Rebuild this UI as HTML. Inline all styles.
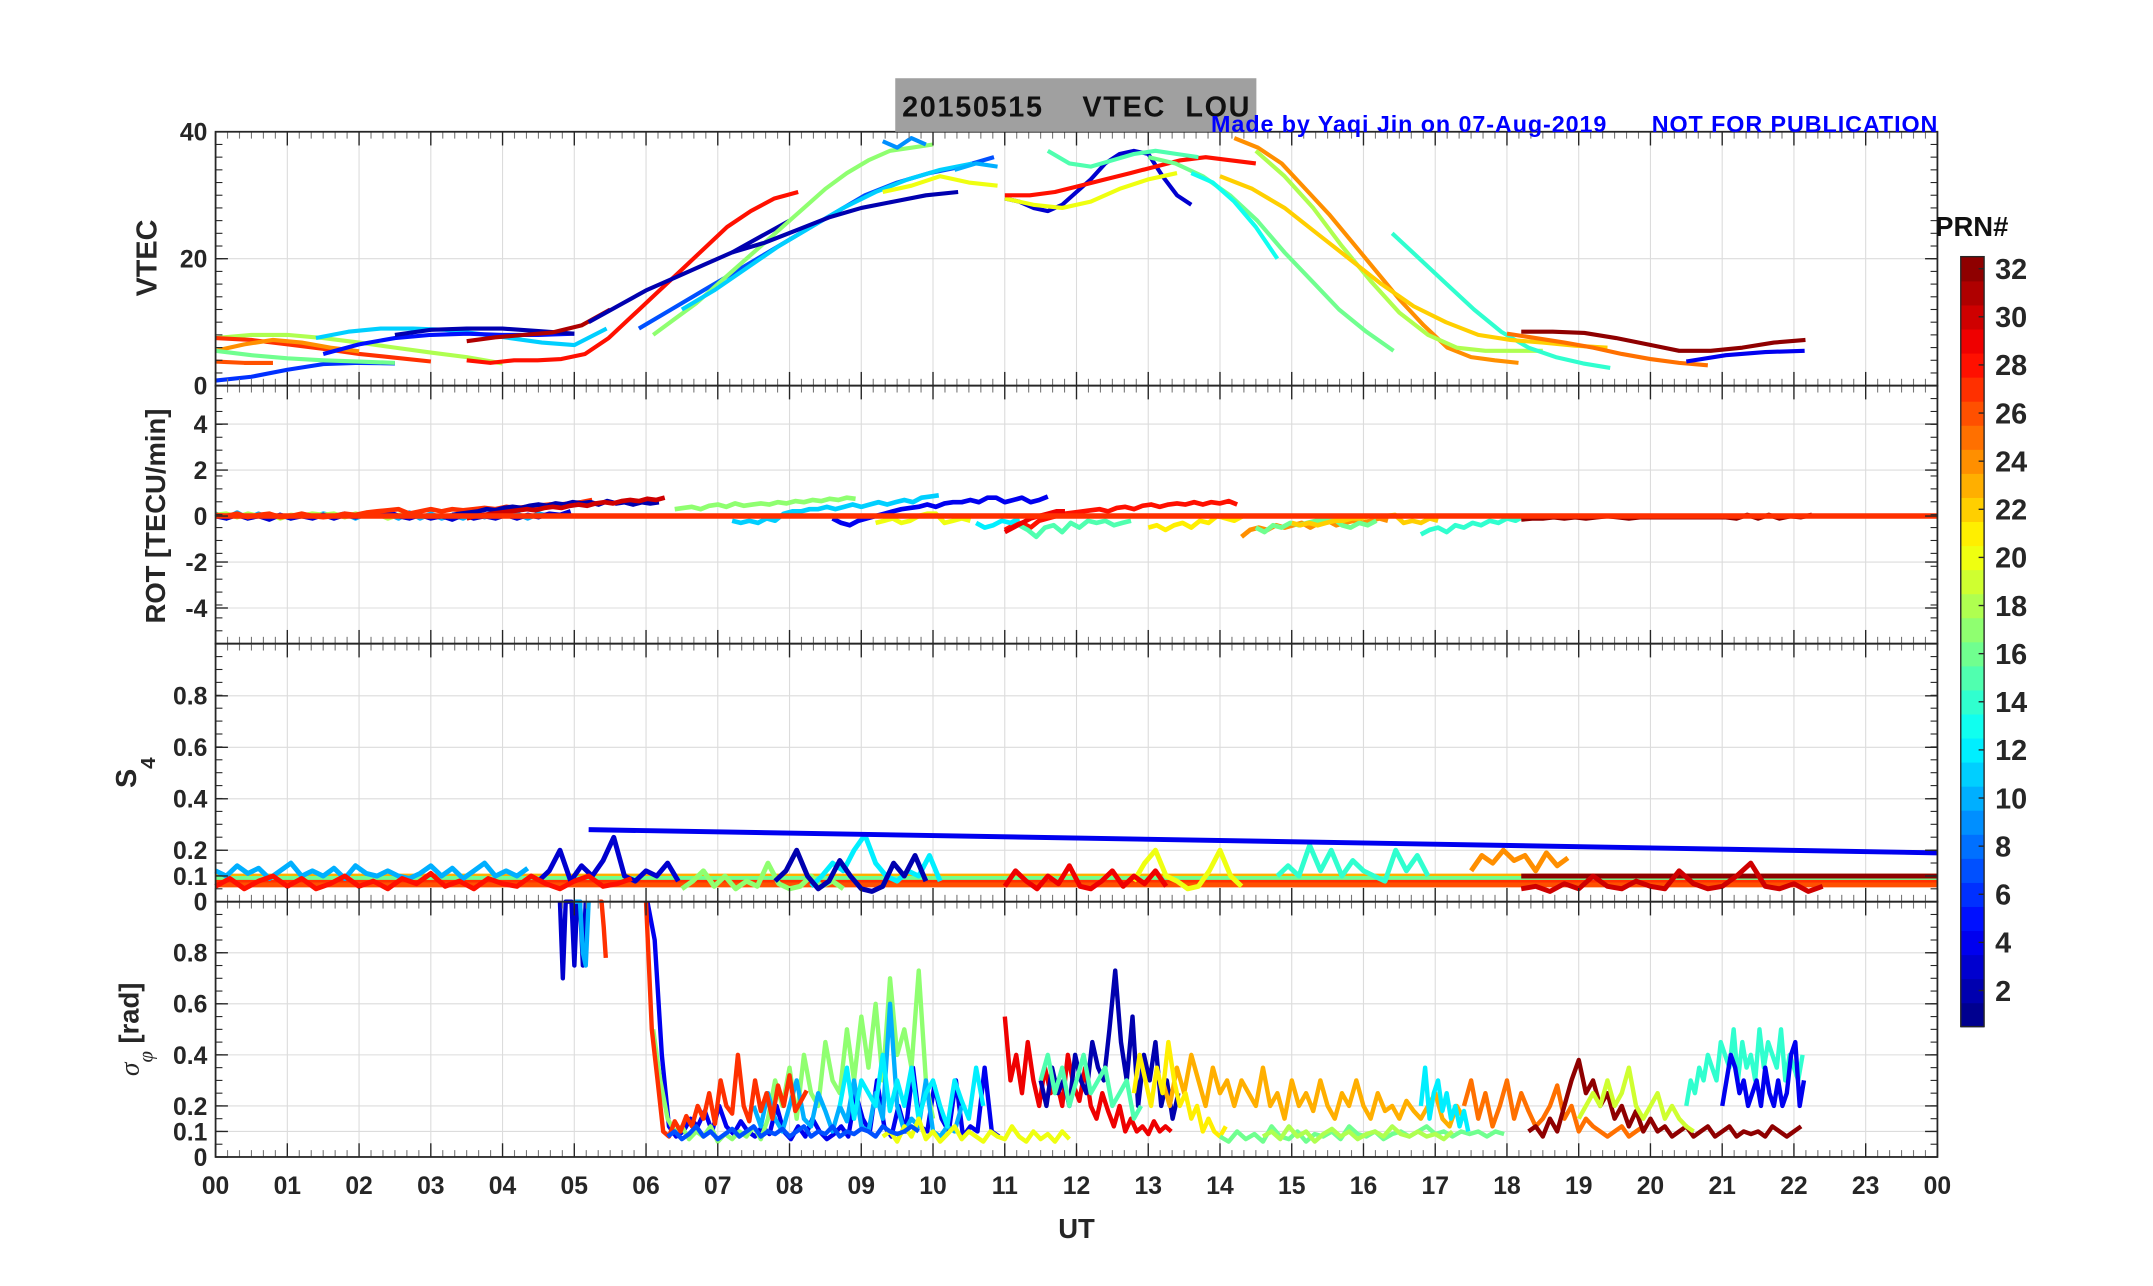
<!DOCTYPE html>
<html><head><meta charset="utf-8"><style>
html,body{margin:0;padding:0;background:#fff;}
svg{display:block;}
text{font-family:"Liberation Sans",Arial,sans-serif;font-weight:bold;fill:#262626;}
</style></head><body>
<svg id="chart" width="2153" height="1286" viewBox="0 0 1568 937" preserveAspectRatio="none" xmlns="http://www.w3.org/2000/svg">
<g id="grid"></g>
<g id="series"></g>
<g id="axes"></g>
<rect x="652" y="57" width="263" height="39" fill="#a0a0a0"/>
<text x="657" y="85" font-size="21" textLength="253" style="fill:#111" xml:space="preserve">20150515    VTEC  LOU</text>
<text x="1411" y="96" font-size="17" text-anchor="end" textLength="529" style="fill:#0000ff" xml:space="preserve">Made by Yaqi Jin on 07-Aug-2019      NOT FOR PUBLICATION</text>
<text transform="translate(114,188) rotate(-90)" font-size="21" text-anchor="middle">VTEC</text>
<text transform="translate(120,376) rotate(-90)" font-size="20" text-anchor="middle">ROT [TECU/min]</text>
<text transform="translate(99,563) rotate(-90)" font-size="21" text-anchor="middle">S<tspan font-size="15" dy="14">4</tspan></text>
<text transform="translate(101,750) rotate(-90)" font-size="20" text-anchor="middle"><tspan font-family="Liberation Serif" font-style="italic" font-weight="normal">σ</tspan><tspan font-size="15" dy="10" font-family="Liberation Serif" font-style="italic" font-weight="normal">φ</tspan><tspan dy="-10"> [rad]</tspan></text>
<text x="784" y="902" font-size="20" text-anchor="middle">UT</text>
<g id="cbar"></g>
<text x="1436" y="172" font-size="20" text-anchor="middle" style="fill:#111">PRN#</text>
</svg>
<script>
// ---------- data ----------
const xTickLabels = ["00","01","02","03","04","05","06","07","08","09","10","11","12","13","14","15","16","17","18","19","20","21","22","23","00"];
const vtecTicks = [0,20,40];
const rotTicks = [-4,-2,0,2,4];
const s4Ticks = [0,0.1,0.2,0.4,0.6,0.8];
const sigTicks = [0,0.1,0.2,0.4,0.6,0.8];
const cbarTicks = [2,4,6,8,10,12,14,16,18,20,22,24,26,28,30,32];

// VTEC series: prn, start hour, step (h), values (TECU)
const vtecPrn   = [6,18,27,24,16,26,11,5,2,31,28,2,7,17,11,2,20,9,10,3,20,28,15,24,18,16,14,13,22,32,25,4];
const vtecStart = [0,0,0,0,0,0,1.4,1.5,2.5,3.5,3.5,5.2,5.9,6.1,6.5,7.2,9.3,9.3,10.3,11,11,11,11.6,14.2,14.5,13.0,16.4,13.6,14.0,18.2,18.0,20.5];
const vtecStep  = [0.5,0.5,0.5,0.4,0.5,0.4,0.45,0.5,0.5,0.4,0.33,0.4,0.45,0.3,0.45,0.45,0.4,0.2,0.3,0.2,0.4,0.35,0.3,0.33,0.4,0.38,0.38,0.3,0.45,0.44,0.4,0.55];
const vtecVals  = [
 [0.8,1.4,2.5,3.4,3.6,3.5],
 [7.5,8,8,7.5,6.8,6,5.2,4.5,3.5],
 [7.5,7.2,6.5,5.8,5,4.4,3.8],
 [5.5,6.5,7.2,6.8,6,5.4],
 [5.5,4.8,4.3,4,3.8,3.6],
 [3.8,3.6,3.6],
 [7.5,8.5,9,9,8.8,8.2,7.5,6.8,6.4,9],
 [5,6.5,7.5,8,8.2,8,8,8.2],
 [8,8.8,9,9,8.6,8.2],
 [7,7.6,8,8.4,9.5,12],
 [4,3.6,4,4,4.2,5,7.5,11,14.5,18,21.5,25,27.5,29.5,30.5],
 [10,12.5,15,17,19,21,23.5,26],
 [9,12,15,18,21,24,27,30,32,33.5,34.5,36],
 [8,10.5,13,16,19,22,25,28,31,33.5,35.5,37,37.5,38],
 [12,15,18.5,22,25,28,30.5,32.5,34,35],
 [21,22.5,24.5,26.5,28,29,30,30.5],
 [30.5,31.5,33,32,31.5],
 [38.5,37.5,39,38],
 [34,35,34.5],
 [29.5,29,28,27.5,28.5,30.5,32.5,35,36.5,37,36.5,33,30,28.5],
 [29.5,28.5,28,29,31,32.5,33.5],
 [30,30,30.5,31.5,32.5,33.5,34.5,35.5,36,35.5,35],
 [37,35,34.5,35.5,36.5,37,36.5,36],
 [39,37.5,35,31,27,22.5,18,13.5,9.5,6,4.5,4,3.6],
 [37,33,28,22,16.5,11.5,8,6,5.5,5.5,5.5],
 [36,35,33,30,26,21,16.5,12,8.5,5.5],
 [24,20,16,12,8.5,6,4.5,3.5,2.8],
 [33.5,32,29,25,20],
 [33,31,28,24,20,16,12.5,10,8,7.2,6.8,6.3,6],
 [8.5,8.5,8.3,7.5,6.5,5.5,5.5,6,6.8,7.2],
 [8.2,7.5,6.8,6,5,4.2,3.6,3.2],
 [3.8,4.8,5.3,5.5]
];

// ROT series (TECU/min)
const rotPrn   = [10,18,3,27,2,30,17,11,20,4,28,12,15,29,21,24,16,14,22,32];
const rotStart = [0,0,0,0,3.3,3.5,6.4,7.2,9.2,8.6,11,10.6,11.2,11.0,13.0,14.3,14.5,16.8,15.0,18.2];
const rotStep  = [0.15,0.15,0.15,0.15,0.12,0.12,0.12,0.12,0.12,0.12,0.12,0.12,0.12,0.12,0.12,0.12,0.12,0.12,0.12,0.15];
const rotVals  = [
 [0.1,-0.1,0.15,-0.1,0.1,-0.1,0.05,-0.1,0.1,-0.05,0.1,0.0,0.1,-0.1,0.1,0.0,0.1,-0.1,0.15,-0.1,0.1,-0.1,0.05,-0.1,0.1,-0.05,0.1,0.0,0.1,-0.1,0.1,0.0],
 [0.05,0.1,-0.05,0.1,0.0,0.1,-0.1,0.05,0.0,0.1,0.05,0.1,-0.05,0.1,0.0,0.1,-0.1,0.05,0.0,0.1],
 [0.0,-0.1,0.05,-0.1,0.0,-0.15,0.05,-0.1,0.0,-0.1,0.05,-0.1,0.05,-0.05,0.1,0.05,0.2,0.0,-0.1,0.05,-0.1,0.0,-0.15,0.05,-0.1,0.0,-0.1,0.05,-0.1,0.05,-0.05,0.1,0.05,0.2],
 [0.05,0.0,0.1,-0.05,0.05,0.1,-0.05,0.0,0.1,0.0,-0.05,0.0,0.1,0.05,0.15,0.2,0.25,0.3,0.1,0.2,0.3,0.2,0.3,0.25,0.3,0.35,0.3,0.4,0.35,0.4,0.45,0.5,0.5,0.55,0.6,0.7],
 [0.05,0.1,0.15,0.2,0.3,0.25,0.35,0.4,0.35,0.45,0.5,0.45,0.55,0.5,0.6,0.55,0.6,0.5,0.65,0.55,0.6,0.5,0.6,0.55,0.6],
 [-0.1,0.0,0.05,0.1,0.15,0.2,0.25,0.3,0.25,0.35,0.4,0.35,0.45,0.5,0.45,0.55,0.6,0.55,0.65,0.7,0.65,0.75,0.7,0.8],
 [0.3,0.35,0.4,0.3,0.45,0.5,0.4,0.55,0.45,0.5,0.55,0.5,0.6,0.55,0.65,0.6,0.7,0.65,0.75,0.7,0.8,0.75],
 [-0.2,-0.3,-0.2,-0.3,-0.1,-0.2,0.1,0.2,0.2,0.3,0.3,0.4,0.3,0.4,0.5,0.4,0.5,0.6,0.5,0.6,0.7,0.6,0.8,0.85,0.9],
 [-0.3,-0.2,-0.1,-0.3,-0.2,0.0,0.1,0.1,-0.3,-0.2,-0.1,-0.2],
 [-0.1,-0.3,-0.4,-0.2,-0.1,0.0,0.1,0.2,0.3,0.35,0.4,0.5,0.4,0.55,0.6,0.6,0.7,0.6,0.8,0.8,0.6,0.7,0.8,0.6,0.7,0.85],
 [-0.6,-0.4,-0.3,-0.5,-0.2,-0.1,0.0,0.1,0.15,0.2,0.25,0.3,0.2,0.35,0.4,0.3,0.45,0.5,0.4,0.5,0.55,0.5,0.6,0.5,0.6,0.55,0.65,0.5],
 [-0.3,-0.5,-0.4,-0.2,-0.3,-0.1],
 [-0.4,-0.6,-0.9,-0.5,-0.4,-0.7,-0.3,-0.5,-0.2,-0.3,-0.2,-0.4,-0.3,-0.2],
 [-0.7,-0.5,-0.3,-0.1,0.0,0.1,0.2,0.2],
 [-0.5,-0.4,-0.6,-0.4,-0.3,-0.5,-0.2,-0.3,0.0,-0.1,-0.2,0.0],
 [-0.9,-0.6,-0.5,-0.6,-0.4,-0.5,-0.4,-0.3,-0.5,-0.3,-0.2,-0.4,-0.3,-0.2,-0.3,-0.2,-0.1,-0.2],
 [-0.5,-0.7,-0.4,-0.5,-0.3,-0.4,-0.3,-0.2,-0.2,-0.1,-0.4,-0.5,-0.3,-0.4,-0.2],
 [-0.8,-0.6,-0.5,-0.7,-0.4,-0.5,-0.3,-0.4,-0.2,-0.3,-0.1,-0.2,0.0],
 [-0.3,-0.4,-0.3,-0.4,-0.3,-0.2,-0.2,-0.1,-0.1,0.0,0.0,0.0,0.05,-0.3,-0.2,-0.3,-0.1,-0.2],
 [-0.15,-0.1,-0.1,-0.05,-0.1,-0.05,-0.1,-0.05,0.0,-0.05,-0.1,-0.05,-0.05,-0.05,-0.05,-0.05,-0.05,-0.05,-0.05,-0.05,-0.1,0.05,-0.1,0.05,-0.1,0.0,-0.05,0.05]
];

// S4 series
const s4Prn   = [23,16,27,26,32,30,10,3,17,12,2,20,14,24,4,29,28];
const s4Start = [0,0,0,0,18.2,18.2,0,4.5,6.5,8.3,7.8,12.8,14.8,17.5,5.2,11.0,0];
const s4Step  = [24,24,24,24,5.8,0.2,0.15,0.15,0.15,0.15,0.15,0.15,0.15,0.15,18.8,0.15,0.2];
const s4Vals  = [
 [0.1,0.1],
 [0.09,0.09],
 [0.075,0.075],
 [0.065,0.065],
 [0.1,0.1],
 [0.05,0.06,0.04,0.07,0.05,0.1,0.06,0.05,0.08,0.06,0.05,0.12,0.07,0.05,0.06,0.1,0.15,0.06,0.05,0.07,0.04,0.06],
 [0.12,0.1,0.14,0.11,0.13,0.09,0.12,0.15,0.1,0.12,0.1,0.13,0.09,0.14,0.11,0.1,0.12,0.1,0.09,0.11,0.14,0.1,0.13,0.09,0.12,0.15,0.1,0.12,0.1,0.13],
 [0.08,0.12,0.2,0.08,0.14,0.1,0.16,0.25,0.1,0.08,0.12,0.1,0.15,0.08],
 [0.05,0.08,0.12,0.06,0.1,0.05,0.08,0.06,0.15,0.07,0.05,0.06,0.1,0.06,0.08,0.05],
 [0.06,0.1,0.15,0.12,0.2,0.26,0.15,0.1,0.08,0.12,0.1,0.18,0.08],
 [0.08,0.12,0.2,0.1,0.05,0.08,0.16,0.1,0.05,0.04,0.06,0.15,0.1,0.18,0.08],
 [0.08,0.15,0.2,0.1,0.08,0.05,0.06,0.12,0.2,0.1,0.06],
 [0.1,0.14,0.1,0.22,0.12,0.2,0.1,0.16,0.12,0.1,0.08,0.2,0.12,0.18,0.1],
 [0.12,0.18,0.15,0.2,0.16,0.18,0.12,0.19,0.14,0.17],
 [0.28,0.19],
 [0.06,0.12,0.08,0.05,0.1,0.07,0.14,0.06,0.05,0.08,0.12,0.06,0.1,0.07,0.12,0.06],
 [0.06,0.09,0.05,0.08,0.1,0.06,0.09,0.05,0.07,0.1,0.06,0.08,0.05,0.09,0.07,0.11,0.06,0.08,0.05,0.09,0.07,0.06,0.1,0.07,0.05,0.08,0.1,0.06,0.07,0.09]
];

// sigma-phi series (rad)
const sigPrn   = [3,10,27,4,17,10,12,20,29,2,23,21,16,25,12,32,14,4,18,19,27,7,15];
const sigStart = [4.8,5.0,5.35,6.02,6.1,7.5,8.7,9.3,11.0,11.5,13.2,12.8,14.0,17.4,16.8,18.3,20.5,21.0,14.6,19.0,6.0,6.3,11.5];
const sigStep  = [0.04,0.04,0.03,0.1,0.1,0.1,0.1,0.1,0.08,0.08,0.1,0.08,0.12,0.1,0.06,0.1,0.06,0.06,0.12,0.1,0.08,0.1,0.1];
const sigVals  = [
 [1.0,0.7,1.0,1.0,1.0,0.75,1.0,1.0,0.75,1.0],
 [1.0,1.0,1.0,0.8,0.75,1.0],
 [1.0,1.0,0.9,0.78],
 [1.0,0.85,0.4,0.12,0.08,0.1,0.15,0.12,0.18,0.1,0.2,0.12,0.09,0.14,0.1,0.08,0.12,0.09,0.2,0.1,0.07,0.12,0.08,0.15,0.1,0.07,0.09,0.12,0.08,0.25,0.15,0.1,0.3,0.12,0.08,0.2,0.1,0.35,0.12,0.1,0.28,0.15,0.1,0.3,0.08,0.12,0.1,0.35,0.1,0.08],
 [0.5,0.3,0.15,0.1,0.12,0.07,0.1,0.08,0.12,0.06,0.09,0.07,0.1,0.08,0.12,0.07,0.15,0.3,0.2,0.35,0.15,0.4,0.25,0.2,0.45,0.3,0.25,0.5,0.3,0.55,0.35,0.6,0.3,0.7,0.4,0.5,0.35,0.73,0.3,0.15],
 [0.2,0.12,0.25,0.15,0.1,0.2,0.3,0.15,0.12,0.25,0.18,0.1,0.2,0.14,0.3,0.12,0.1,0.25,0.15,0.6,0.2,0.1,0.15,0.12,0.3,0.1,0.08,0.12,0.1,0.2],
 [0.2,0.35,0.15,0.3,0.25,0.2,0.4,0.18,0.3,0.2,0.35,0.15,0.25,0.3,0.2,0.12,0.3,0.22,0.15,0.35,0.2],
 [0.08,0.1,0.06,0.12,0.08,0.15,0.07,0.1,0.06,0.09,0.12,0.07,0.1,0.08,0.06,0.1,0.08,0.07,0.12,0.08,0.06,0.1,0.07,0.09,0.06,0.1,0.07],
 [0.55,0.3,0.4,0.25,0.45,0.3,0.2,0.35,0.25,0.3,0.2,0.4,0.28,0.22,0.35,0.2,0.15,0.25,0.18,0.12,0.2,0.1,0.15,0.1,0.12,0.09,0.14,0.1,0.12,0.1],
 [0.3,0.2,0.35,0.25,0.3,0.2,0.4,0.3,0.25,0.45,0.35,0.3,0.5,0.73,0.45,0.3,0.55,0.2,0.4,0.3,0.45,0.2,0.3,0.15,0.25],
 [0.3,0.2,0.35,0.25,0.4,0.3,0.2,0.35,0.25,0.3,0.2,0.3,0.25,0.2,0.35,0.2,0.25,0.15,0.3,0.2,0.25,0.18,0.3,0.2,0.15,0.25,0.2,0.3,0.2,0.15,0.25,0.18,0.2,0.15,0.22,0.18,0.15,0.2,0.25,0.15,0.12,0.2,0.15],
 [0.25,0.4,0.3,0.2,0.35,0.25,0.45,0.3,0.2,0.25,0.15,0.2,0.1,0.15,0.1,0.08,0.12],
 [0.08,0.06,0.1,0.07,0.09,0.06,0.12,0.08,0.07,0.1,0.06,0.09,0.08,0.1,0.07,0.12,0.09,0.08,0.1,0.07,0.09,0.1,0.08,0.1,0.12,0.09,0.1,0.08,0.1,0.09,0.1,0.08,0.1,0.09],
 [0.2,0.3,0.15,0.25,0.12,0.2,0.3,0.15,0.25,0.18,0.12,0.15,0.2,0.28,0.15,0.2,0.1,0.15,0.12,0.1,0.08,0.1,0.12,0.08,0.1,0.12],
 [0.2,0.35,0.15,0.25,0.3,0.18,0.25,0.15,0.2,0.12,0.18,0.1],
 [0.1,0.12,0.08,0.15,0.1,0.2,0.3,0.38,0.25,0.3,0.2,0.25,0.15,0.2,0.12,0.18,0.1,0.15,0.1,0.12,0.08,0.1,0.12,0.08,0.1,0.12,0.08,0.1,0.12,0.08,0.1,0.09,0.1,0.08,0.12,0.1,0.08,0.1,0.12],
 [0.2,0.3,0.25,0.35,0.3,0.4,0.35,0.3,0.45,0.4,0.35,0.5,0.3,0.45,0.35,0.4,0.3,0.5,0.35,0.45,0.4,0.35,0.5,0.3,0.4,0.35,0.3,0.4],
 [0.2,0.3,0.4,0.35,0.25,0.3,0.2,0.25,0.3,0.2,0.35,0.25,0.2,0.3,0.2,0.25,0.4,0.45,0.2,0.3],
 [0.08,0.1,0.07,0.12,0.08,0.1,0.06,0.09,0.11,0.08,0.1,0.07,0.09,0.1,0.08,0.12,0.09,0.08,0.1,0.08,0.09,0.07,0.1],
 [0.15,0.2,0.25,0.2,0.3,0.2,0.25,0.35,0.2,0.15,0.2,0.25,0.15,0.2,0.15,0.12,0.1],
 [1.0,0.5,0.3,0.1,0.08,0.14,0.1,0.16,0.12,0.2,0.15,0.25,0.13,0.3,0.2,0.17,0.4,0.2,0.14,0.3,0.18,0.25,0.15,0.28,0.2,0.32,0.18,0.22,0.26],
 [0.08,0.1,0.07,0.09,0.12,0.08,0.1,0.07,0.09,0.11,0.08,0.1,0.12,0.08,0.1,0.09,0.11,0.08,0.1,0.12,0.08,0.1,0.09,0.12,0.08,0.1,0.09,0.11,0.1,0.08,0.12,0.1,0.09,0.1,0.12,0.1],
 [0.3,0.4,0.25,0.35,0.2,0.3,0.4,0.25,0.3,0.35,0.2,0.25,0.3,0.15,0.2]
];

// ---------- scales (display units, scaled by viewBox) ----------
const X0=157, X1=1411;
const panels = [
 {top:96, bot:281, y:v=>281-v*185/40, name:'vtec'},
 {top:281, bot:469, y:v=>376-v*16.75, name:'rot'},
 {top:469, bot:657, y:v=>657-v*187.5, name:'s4'},
 {top:657, bot:843, y:v=>843-v*186, name:'sigma'}
];
const xs = h => X0 + h*(X1-X0)/24;
const NS='http://www.w3.org/2000/svg';
function jet(prn){
  const c=(prn-0.5)/32, cl=v=>Math.max(0,Math.min(1,v));
  const r=cl(1.5-Math.abs(4*c-3)), g=cl(1.5-Math.abs(4*c-2)), b=cl(1.5-Math.abs(4*c-1));
  return `rgb(${Math.round(r*255)},${Math.round(g*255)},${Math.round(b*255)})`;
}
function mk(tag, parent){const e=document.createElementNS(NS,tag);parent.appendChild(e);return e;}
const G=document.getElementById('grid'), S=document.getElementById('series'), A=document.getElementById('axes'), C=document.getElementById('cbar');

// grid + axes
panels.forEach((p,pi)=>{
  for(let h=1;h<24;h++){
    const l=mk('line',G);
    
    
    l.setAttribute('x1',xs(h));l.setAttribute('x2',xs(h));l.setAttribute('y1',p.top);l.setAttribute('y2',p.bot);
    l.setAttribute('stroke','#dcdcdc');l.setAttribute('stroke-width','0.8');
  }
  const ticks = pi===0?vtecTicks:pi===1?rotTicks:pi===2?s4Ticks:sigTicks;
  ticks.forEach(v=>{
    const yy=p.y(v);
    if(yy>p.top+1 && yy<p.bot-1){
      const l=mk('line',G);
      
      
      l.setAttribute('x1',X0);l.setAttribute('x2',X1);l.setAttribute('y1',yy);l.setAttribute('y2',yy);
      l.setAttribute('stroke','#dcdcdc');l.setAttribute('stroke-width','0.8');
    }
    const t=mk('text',A);
    
    
    t.setAttribute('x',X0-6);t.setAttribute('y',yy+6.5);t.setAttribute('text-anchor','end');t.setAttribute('font-size','18');
    t.textContent=String(v);
    [[X0,X0+9],[X1,X1-9]].forEach(([a,b])=>{
      const k=mk('line',A);
      
      
      k.setAttribute('x1',a);k.setAttribute('x2',b);k.setAttribute('y1',yy);k.setAttribute('y2',yy);k.setAttribute('stroke','#262626');k.setAttribute('stroke-width','1');
    });
  });
  const span=p.bot-p.top;
  for(let i=1;i<20;i++){
    const yy=p.top+span*i/20;
    [[X0,X0+5],[X1,X1-5]].forEach(([a,b])=>{
      const k=mk('line',A);
      
      
      k.setAttribute('x1',a);k.setAttribute('x2',b);k.setAttribute('y1',yy);k.setAttribute('y2',yy);k.setAttribute('stroke','#262626');k.setAttribute('stroke-width','0.8');
    });
  }
  for(let m=0;m<=24*6;m++){
    const xx=xs(m/6), major=m%6===0, len=major?10:5;
    [[p.top,p.top+len],[p.bot,p.bot-len]].forEach(([a,b])=>{
      const k=mk('line',A);
      
      
      k.setAttribute('x1',xx);k.setAttribute('x2',xx);k.setAttribute('y1',a);k.setAttribute('y2',b);k.setAttribute('stroke',major?'#262626':'#777');k.setAttribute('stroke-width',major?'1':'0.8');
    });
  }
  const r=mk('rect',A);
  
  
  r.setAttribute('x',X0);r.setAttribute('y',p.top);r.setAttribute('width',X1-X0);r.setAttribute('height',p.bot-p.top);
  r.setAttribute('fill','none');r.setAttribute('stroke','#262626');r.setAttribute('stroke-width','1.3');
});
xTickLabels.forEach((lab,i)=>{
  const t=mk('text',A);
  
  
  t.setAttribute('x',xs(i));t.setAttribute('y',870);t.setAttribute('text-anchor','middle');t.setAttribute('font-size','18');
  t.textContent=lab;
});

function drawSet(pi, prns, starts, steps, vals, w, name){
  const p=panels[pi];
  prns.forEach((prn,i)=>{
    const pts=vals[i].map((v,j)=>{
      const yy=Math.max(p.top,Math.min(p.bot,p.y(v)));
      return xs(Math.min(24,starts[i]+j*steps[i])).toFixed(1)+','+yy.toFixed(1);
    }).join(' ');
    const pl=mk('polyline',S);
    
    
    pl.setAttribute('points',pts);pl.setAttribute('fill','none');pl.setAttribute('stroke',jet(prn));
    pl.setAttribute('stroke-width',w);pl.setAttribute('stroke-linejoin','round');
  });
}
drawSet(0,vtecPrn,vtecStart,vtecStep,vtecVals,3,'vtec-line');
drawSet(1,rotPrn,rotStart,rotStep,rotVals,3.4,'rot-line');
drawSet(2,s4Prn,s4Start,s4Step,s4Vals,3.6,'s4-line');
drawSet(3,sigPrn,sigStart,sigStep,sigVals,3.2,'sigma-line');
(function(){
  const p=panels[1];
  const l=mk('line',S);
  
  
  l.setAttribute('x1',X0);l.setAttribute('x2',X1);l.setAttribute('y1',p.y(0));l.setAttribute('y2',p.y(0));
  l.setAttribute('stroke',jet(27));l.setAttribute('stroke-width','4');
})();

// colorbar
const cbTop=187, cbBot=748, cbX=1428, cbW=17;
for(let k=1;k<=32;k++){
  const r=mk('rect',C);
  
  
  const y1=cbBot-(k)*(cbBot-cbTop)/32;
  r.setAttribute('x',cbX);r.setAttribute('y',y1);r.setAttribute('width',cbW);r.setAttribute('height',(cbBot-cbTop)/32+0.5);
  r.setAttribute('fill',jet(k));
}
const fr=mk('rect',C);


fr.setAttribute('x',cbX);fr.setAttribute('y',cbTop);fr.setAttribute('width',cbW);fr.setAttribute('height',cbBot-cbTop);
fr.setAttribute('fill','none');fr.setAttribute('stroke','#262626');fr.setAttribute('stroke-width','1');
cbarTicks.forEach(v=>{
  const yy=cbBot-(v-0.5)*(cbBot-cbTop)/32;
  const t=mk('text',C);
  
  
  t.setAttribute('x',1453);t.setAttribute('y',yy+7.5);t.setAttribute('font-size','21');
  t.textContent=String(v);
  const k=mk('line',C);
  
  
  k.setAttribute('x1',cbX+cbW-4);k.setAttribute('x2',cbX+cbW);k.setAttribute('y1',yy);k.setAttribute('y2',yy);k.setAttribute('stroke','#262626');
});
</script>
</body></html>
